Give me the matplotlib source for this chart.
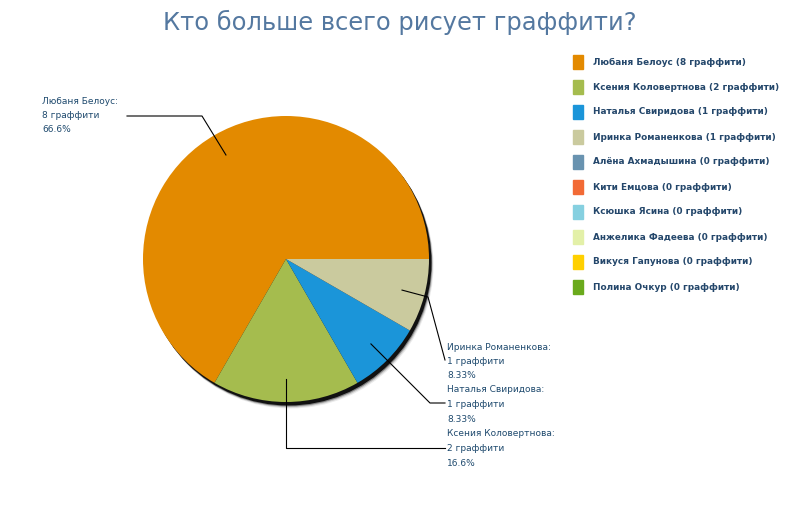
import numpy as np
import matplotlib.pyplot as plt
from matplotlib.patches import Circle, Rectangle

TITLE = "Кто больше всего рисует граффити?"

names = ["Любаня Белоус", "Ксения Коловертнова", "Наталья Свиридова",
         "Иринка Романенкова", "Алёна Ахмадышина", "Кити Емцова",
         "Ксюшка Ясина", "Анжелика Фадеева", "Викуся Гапунова", "Полина Очкур"]
counts = [8, 2, 1, 1, 0, 0, 0, 0, 0, 0]
pct_labels = ["66.6%", "16.6%", "8.33%", "8.33%"]
colors = ["#e38a00", "#a5bc4e", "#1b95d9", "#caca9e", "#6993b0",
          "#f26a35", "#86d0e0", "#e3f0a8", "#ffd000", "#6aaa1c"]

CX, CY, R = 286, 259, 143
TEXT_C = "#1f4a6e"

fig = plt.figure(figsize=(8, 5.2), dpi=100)
ax = fig.add_axes([0, 0, 1, 1])

# soft drop shadow
for off, a in [(6.5, 0.08), (5.5, 0.15), (4.5, 0.35)]:
    ax.add_patch(Circle((CX + off * 0.7, CY + off), R, color="black",
                        alpha=a, lw=0, zorder=0))
ax.add_patch(Circle((CX + 2.5, CY + 3.5), R, color="#111111", lw=0, zorder=1))

vals = [c for c in counts if c > 0]
wedges, _ = ax.pie(vals, colors=colors[:len(vals)], startangle=0,
                   counterclock=False, radius=R, center=(CX, CY),
                   wedgeprops=dict(linewidth=0))
for w in wedges:
    w.set_zorder(2)

ax.set_xlim(0, 800)
ax.set_ylim(520, 0)
ax.set_aspect("equal")
ax.axis("off")

# label layout: (text x, first line y, elbow point, end point)
label_pos = [
    (42, 101, (202, 116), (127, 116)),
    (447, 434, (286, 448), (445, 448)),
    (447, 390, (430, 403), (445, 403)),
    (447, 347, (428, 297), (445, 360)),
]

for i, w in enumerate(wedges):
    mid = np.deg2rad((w.theta1 + w.theta2) / 2)
    ax_ = CX + 0.84 * R * np.cos(mid)
    ay_ = CY + 0.84 * R * np.sin(mid)
    tx, ty, elbow, end = label_pos[i]
    ax.plot([ax_, elbow[0], end[0]], [ay_, elbow[1], end[1]],
            color="black", lw=0.8, zorder=3)
    lines = [names[i] + ":", f"{counts[i]} граффити", pct_labels[i]]
    for k, s in enumerate(lines):
        ax.text(tx, ty + k * 14.5, s, fontsize=6.5, color=TEXT_C,
                va="center", ha="left")

ax.text(400, 22, TITLE, fontsize=17.4, color="#5478a0",
        ha="center", va="center")

# legend
for i, (n, c) in enumerate(zip(names, counts)):
    y = 62 + i * 25
    ax.add_patch(Rectangle((573, y - 7), 10, 14, color=colors[i]))
    ax.text(593, y, f"{n} ({c} граффити)", fontsize=6.4, fontweight="bold",
            color="#24476b", ha="left", va="center")

fig.savefig("out.png", dpi=100, facecolor="white")
